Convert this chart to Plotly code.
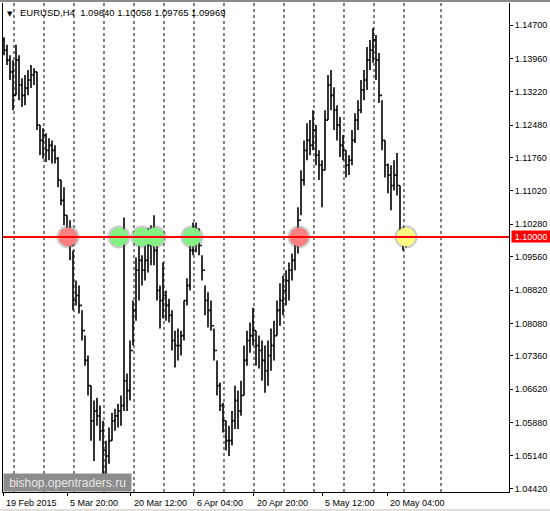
import plotly.graph_objects as go

# EURUSD H4, one entry per ~3 H4 bars
highs = [1.1443, 1.1426, 1.1403, 1.1392, 1.1426, 1.1403, 1.1352, 1.1359, 1.1370, 1.1381,
         1.1374, 1.1366, 1.1248, 1.1241, 1.1230, 1.1219, 1.1214, 1.1203, 1.1177, 1.1126,
         1.1110, 1.1048, 1.1037, 1.0970, 1.0903, 1.0892, 1.0837, 1.0781, 1.0737, 1.0670,
         1.0637, 1.0643, 1.0626, 1.0592, 1.0548, 1.0577, 1.0610, 1.0619, 1.0630, 1.0648,
         1.1043, 1.0697, 1.0770, 1.0859, 1.0954, 1.0992, 1.0959, 1.1010, 1.1019, 1.1026,
         1.1048, 1.0988, 1.0892, 1.0943, 1.0881, 1.0863, 1.0837, 1.0792, 1.0797, 1.0792,
         1.0859, 1.0908, 1.1003, 1.1032, 1.1032, 1.1019, 1.0959, 1.0892, 1.0877, 1.0859,
         1.0797, 1.0726, 1.0677, 1.0632, 1.0592, 1.0581, 1.0614, 1.0670, 1.0659, 1.0681,
         1.0759, 1.0792, 1.0810, 1.0843, 1.0792, 1.0781, 1.0770, 1.0759, 1.0770, 1.0797,
         1.0814, 1.0859, 1.0897, 1.0914, 1.0926, 1.0943, 1.0963, 1.1003, 1.1066, 1.1148,
         1.1214, 1.1252, 1.1259, 1.1281, 1.1248, 1.1192, 1.1170, 1.1281, 1.1359, 1.1370,
         1.1332, 1.1292, 1.1266, 1.1226, 1.1192, 1.1181, 1.1237, 1.1274, 1.1303, 1.1348,
         1.1370, 1.1421, 1.1437, 1.1463, 1.1448, 1.1408, 1.1303, 1.1214, 1.1163, 1.1159,
         1.1170, 1.1186, 1.1114, 1.1021, 1.10058]
lows = [1.1403, 1.1381, 1.1348, 1.1281, 1.1314, 1.1303, 1.1288, 1.1292, 1.1314, 1.1330,
        1.1337, 1.1237, 1.1181, 1.1174, 1.1166, 1.1170, 1.1163, 1.1163, 1.1110, 1.1070,
        1.1026, 1.0992, 1.0948, 1.0837, 1.0848, 1.0830, 1.0770, 1.0714, 1.0648, 1.0548,
        1.0503, 1.0581, 1.0548, 1.0459, 1.0463, 1.0497, 1.0548, 1.0570, 1.0577, 1.0581,
        1.0614, 1.0614, 1.0637, 1.0759, 1.0814, 1.0859, 1.0892, 1.0903, 1.0921, 1.0937,
        1.0937, 1.0859, 1.0797, 1.0819, 1.0814, 1.0810, 1.0748, 1.0710, 1.0726, 1.0737,
        1.0770, 1.0848, 1.0881, 1.0959, 1.0966, 1.0959, 1.0903, 1.0826, 1.0799, 1.0792,
        1.0726, 1.0648, 1.0614, 1.0566, 1.0526, 1.0514, 1.0537, 1.0574, 1.0574, 1.0603,
        1.0648, 1.0714, 1.0743, 1.0759, 1.0714, 1.0708, 1.0681, 1.0654, 1.0670, 1.0703,
        1.0726, 1.0781, 1.0803, 1.0826, 1.0848, 1.0859, 1.0903, 1.0926, 1.0963, 1.1048,
        1.1114, 1.1170, 1.1181, 1.1192, 1.1159, 1.1126, 1.1066, 1.1148, 1.1259, 1.1281,
        1.1237, 1.1214, 1.1177, 1.1170, 1.1132, 1.1137, 1.1159, 1.1208, 1.1237, 1.1274,
        1.1303, 1.1326, 1.1370, 1.1386, 1.1348, 1.1297, 1.1192, 1.1132, 1.1097, 1.1059,
        1.1103, 1.1092, 1.0992, 1.0970, 1.09765]
closes = [1.1414, 1.1392, 1.1366, 1.1314, 1.1392, 1.1337, 1.1314, 1.1330, 1.1348, 1.1359,
          1.1366, 1.1248, 1.1214, 1.1226, 1.1192, 1.1203, 1.1192, 1.1174, 1.1126, 1.1081,
          1.1048, 1.1010, 1.0981, 1.0859, 1.0870, 1.0848, 1.0792, 1.0726, 1.0670, 1.0592,
          1.0614, 1.0603, 1.0570, 1.0526, 1.0514, 1.0548, 1.0592, 1.0603, 1.0614, 1.0626,
          1.0681, 1.0659, 1.0748, 1.0837, 1.0926, 1.0948, 1.0926, 1.0948, 1.0981, 1.0992,
          1.0970, 1.0881, 1.0859, 1.0870, 1.0848, 1.0826, 1.0770, 1.0759, 1.0759, 1.0781,
          1.0859, 1.0892, 1.0970, 1.0992, 1.1003, 1.0981, 1.0926, 1.0859, 1.0837, 1.0803,
          1.0748, 1.0670, 1.0626, 1.0592, 1.0548, 1.0548, 1.0592, 1.0637, 1.0614, 1.0648,
          1.0726, 1.0770, 1.0781, 1.0792, 1.0759, 1.0748, 1.0726, 1.0703, 1.0737, 1.0759,
          1.0781, 1.0837, 1.0859, 1.0881, 1.0903, 1.0926, 1.0948, 1.0981, 1.1037, 1.1126,
          1.1192, 1.1214, 1.1203, 1.1237, 1.1181, 1.1159, 1.1148, 1.1259, 1.1337, 1.1314,
          1.1281, 1.1248, 1.1203, 1.1192, 1.1159, 1.1170, 1.1214, 1.1259, 1.1281, 1.1326,
          1.1348, 1.1392, 1.1414, 1.1437, 1.1392, 1.1314, 1.1214, 1.1159, 1.1137, 1.1114,
          1.1137, 1.1114, 1.1014, 1.0992, 1.09969]
first_open = 1.1437
last_open = 1.09840
opens = [first_open] + closes[:-1]
opens[-1] = last_open
bars = list(range(len(closes)))

# price axis
price_ticks = [1.1470, 1.1396, 1.1322, 1.1248, 1.1176, 1.1102, 1.1028, 1.0956,
               1.0882, 1.0808, 1.0736, 1.0662, 1.0588, 1.0514, 1.0442]
price_labels = ["%.5f" % p for p in price_ticks]
level = 1.10000

# time axis (in bar slots)
time_ticks = [-0.33, 21, 42.33, 63.33, 83.33, 106, 127.67]
time_labels = ["19 Feb 2015", "5 Mar 20:00", "20 Mar 12:00", "6 Apr 04:00",
               "20 Apr 20:00", "5 May 12:00", "20 May 04:00"]
week_lines = [3.33, 13.33, 23.33, 33.33, 43.33, 53.33, 63.33, 73.33, 83.33,
              93.33, 103.33, 113.33, 123.33, 133.33, 145.67]

# touches of the 1.1000 level
touch_x = [21.33, 38.33, 46, 50.33, 62.67, 98.33, 134]
touch_col = ["#f88080", "#84f084", "#84f084", "#84f084", "#84f084", "#f88080", "#fcfc80"]

x_range = [-0.333, 168.333]
y_range = [1.04341, 1.15188]
FONT = "Liberation Sans"

fig = go.Figure()

fig.add_trace(go.Scatter(x=touch_x, y=[level] * len(touch_x), mode="markers",
                         marker=dict(size=23, color="rgba(110,110,110,0.35)", line=dict(width=0)),
                         hoverinfo="skip", showlegend=False))
fig.add_trace(go.Scatter(x=touch_x, y=[level] * len(touch_x), mode="markers",
                         marker=dict(size=19, color=touch_col, line=dict(width=0)),
                         hoverinfo="skip", showlegend=False))
fig.add_trace(go.Scatter(x=x_range, y=[level, level], mode="lines",
                         line=dict(color="#ff0000", width=2),
                         hoverinfo="skip", showlegend=False))
fig.add_trace(go.Ohlc(x=bars, open=opens, high=highs, low=lows, close=closes,
                      increasing_line_color="black", decreasing_line_color="black",
                      line_width=1.6, tickwidth=0.5, showlegend=False))

for g in week_lines:
    fig.add_shape(type="line", xref="x", yref="paper", x0=g, x1=g, y0=0, y1=1,
                  line=dict(color="black", width=1, dash="3px,3px"), layer="below")

# window chrome bands
fig.add_shape(type="rect", xref="paper", yref="paper", x0=-0.01, x1=1.09, y0=-0.0348, y1=-0.045,
              fillcolor="#e2dfda", line_width=0)
fig.add_shape(type="rect", xref="paper", yref="paper", x0=-0.01, x1=1.09, y0=1.002, y1=1.008,
              fillcolor="#8a8a8a", line_width=0)

for t, lab in zip(time_ticks, time_labels):
    fig.add_annotation(x=t, xref="x", y=-0.0225, yref="paper", text=lab, showarrow=False,
                       xanchor="left", yanchor="middle", xshift=1,
                       font=dict(family=FONT, size=9, color="black"))

fig.add_annotation(x=0.0296, xref="paper", y=0.9796, yref="paper", showarrow=False,
                   text="EURUSD,H4  1.09840 1.10058 1.09765 1.09969",
                   xanchor="left", yanchor="middle", font=dict(family=FONT, size=9.5, color="black"))
fig.add_annotation(x=0.0138, xref="paper", y=0.9785, yref="paper", showarrow=False, text="▼",
                   xanchor="center", yanchor="middle", font=dict(family="DejaVu Sans", size=7, color="black"))

fig.add_annotation(x=0, xref="paper", y=0, yref="paper", showarrow=False,
                   text="bishop.opentraders.ru", xanchor="left", yanchor="bottom",
                   bgcolor="#8c8c8c", width=123, height=13, borderpad=2,
                   font=dict(family=FONT, size=12, color="#e6e6e6"))

fig.add_annotation(x=1, xref="paper", y=level, yref="y", showarrow=False, text="1.10000",
                   xanchor="left", yanchor="middle", xshift=2, bgcolor="#ff0000",
                   width=35, height=8, borderpad=1.5,
                   font=dict(family=FONT, size=9, color="white"))

fig.update_layout(
    width=550, height=511,
    margin=dict(l=3, r=41, t=3, b=19),
    paper_bgcolor="white", plot_bgcolor="white",
    showlegend=False,
    font=dict(family=FONT, size=9, color="black"),
    xaxis=dict(range=x_range, showgrid=False, zeroline=False, showline=True,
               linecolor="black", linewidth=1, ticks="outside", ticklen=3,
               tickcolor="black", tickvals=time_ticks, showticklabels=False,
               rangeslider=dict(visible=False), fixedrange=True),
    yaxis=dict(range=y_range, side="right", showgrid=False, zeroline=False,
               showline=True, mirror=True, linecolor="black", linewidth=1,
               ticks="outside", ticklen=3, tickcolor="black",
               tickvals=price_ticks, ticktext=price_labels,
               tickfont=dict(family=FONT, size=9, color="black"), fixedrange=True),
)

# the page's default body margin would push the 550x511 figure off the window
fig.write_html("out.html", config={"displayModeBar": False},
               post_script="document.body.style.margin='0';")
